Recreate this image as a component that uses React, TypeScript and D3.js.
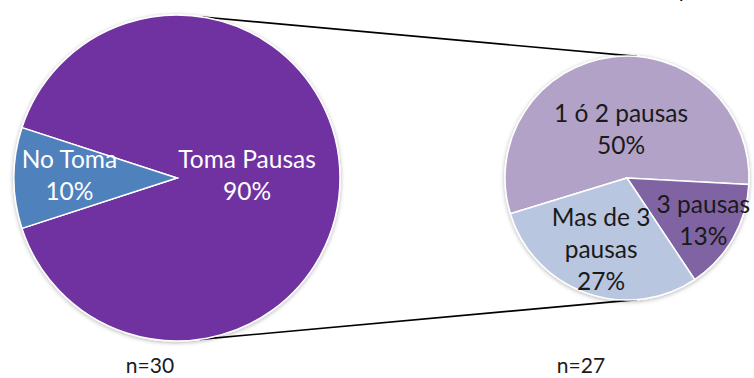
import React from "react";
import * as d3 from "d3";

// main pie: takes pauses or not (counts out of 30)
const mainLabels = ["Toma Pausas", "No Toma"];
const mainCounts = [27, 3];
const mainColors = ["#7030A0", "#4F81BD"];

// breakdown of those who take pauses (n=27), % shown relative to 30
const subLabels = [["1 ó 2 pausas"], ["3 pausas"], ["Mas de 3", "pausas"]];
const subCounts = [15, 4, 8];
const subColors = ["#B3A2C7", "#8064A2", "#B8C6DF"];

const totalN = 30;
const subN = 27;

const W = 754;
const H = 378;
const FONT = "Lato, 'Open Sans', sans-serif";

const deg = (d: number) => (d * Math.PI) / 180;

const App: React.FC = () => {
  const main = { cx: 177, cy: 178, r: 163 };
  const sub = { cx: 627, cy: 178, r: 122 };

  const mainPie = d3
    .pie<number>()
    .sort(null)
    .startAngle(deg(-72))
    .endAngle(deg(288));
  const subPie = d3
    .pie<number>()
    .sort(null)
    .startAngle(deg(-107))
    .endAngle(deg(253));

  const mainArcs = mainPie(mainCounts);
  const subArcs = subPie(subCounts);

  const mainArc = d3.arc<d3.PieArcDatum<number>>().innerRadius(0).outerRadius(main.r);
  const subArc = d3.arc<d3.PieArcDatum<number>>().innerRadius(0).outerRadius(sub.r);

  const mainLabelR = [0.43, 0.66];
  const subLabelR = [0.4, 0.72, 0.63];

  const pct = (v: number) => `${Math.round((v / totalN) * 100)}%`;

  const pt = (c: { cx: number; cy: number; r: number }, a: number) => [
    c.cx + c.r * Math.sin(deg(a)),
    c.cy - c.r * Math.cos(deg(a)),
  ];

  const connectors = [
    [pt(main, 9), pt(sub, 4.7)],
    [pt(main, 172), pt(sub, 175.3)],
  ];

  const labelPos = (d: d3.PieArcDatum<number>, r: number) => {
    const a = (d.startAngle + d.endAngle) / 2;
    return [Math.sin(a) * r, -Math.cos(a) * r];
  };

  const lineH = 32;
  const fs = 24.5;

  return (
    <svg
      width={W}
      height={H}
      style={{ position: "fixed", left: 0, top: 0, background: "#fff" }}
      fontFamily={FONT}
    >
      <defs>
        <filter id="shadow" x="-10%" y="-10%" width="120%" height="120%">
          <feDropShadow dx="0" dy="1" stdDeviation="2" floodColor="#000" floodOpacity="0.3" />
        </filter>
      </defs>

      {connectors.map((c, i) => (
        <line
          key={i}
          x1={c[0][0]}
          y1={c[0][1]}
          x2={c[1][0]}
          y2={c[1][1]}
          stroke="#000"
          strokeWidth={1.6}
        />
      ))}

      <g transform={`translate(${main.cx},${main.cy})`} filter="url(#shadow)">
        {mainArcs.map((d, i) => (
          <path key={i} d={mainArc(d) || ""} fill={mainColors[i]} stroke="#fff" strokeWidth={1.5} />
        ))}
      </g>
      <g transform={`translate(${main.cx},${main.cy})`}>
        {mainArcs.map((d, i) => {
          const [x, y] = labelPos(d, main.r * mainLabelR[i]);
          return (
            <text key={i} x={x} textAnchor="middle" fill="#fff" fontSize={fs}>
              <tspan x={x} y={y - lineH / 2 + 6}>{mainLabels[i]}</tspan>
              <tspan x={x} y={y + lineH / 2 + 6}>{pct(mainCounts[i])}</tspan>
            </text>
          );
        })}
      </g>

      <g transform={`translate(${sub.cx},${sub.cy})`} filter="url(#shadow)">
        {subArcs.map((d, i) => (
          <path key={i} d={subArc(d) || ""} fill={subColors[i]} stroke="#fff" strokeWidth={1.5} />
        ))}
      </g>
      <g transform={`translate(${sub.cx},${sub.cy})`}>
        {subArcs.map((d, i) => {
          const [x, y] = labelPos(d, sub.r * subLabelR[i]);
          const lines = [...subLabels[i], pct(subCounts[i])];
          const y0 = y - ((lines.length - 1) * lineH) / 2 + 8;
          return (
            <text key={i} textAnchor="middle" fill="#1a1a1a" fontSize={fs}>
              {lines.map((l, j) => (
                <tspan key={j} x={x} y={y0 + j * lineH}>
                  {l}
                </tspan>
              ))}
            </text>
          );
        })}
      </g>

      <text x={150} y={373} textAnchor="middle" fontSize={21} fill="#1a1a1a">
        n={totalN}
      </text>
      <text x={581} y={373} textAnchor="middle" fontSize={21} fill="#1a1a1a">
        n={subN}
      </text>
      {/* descender of a clipped title above the chart */}
      <text x={683} y={-3} textAnchor="middle" fontSize={22} fill="#000">
        y
      </text>
    </svg>
  );
};

export default App;
